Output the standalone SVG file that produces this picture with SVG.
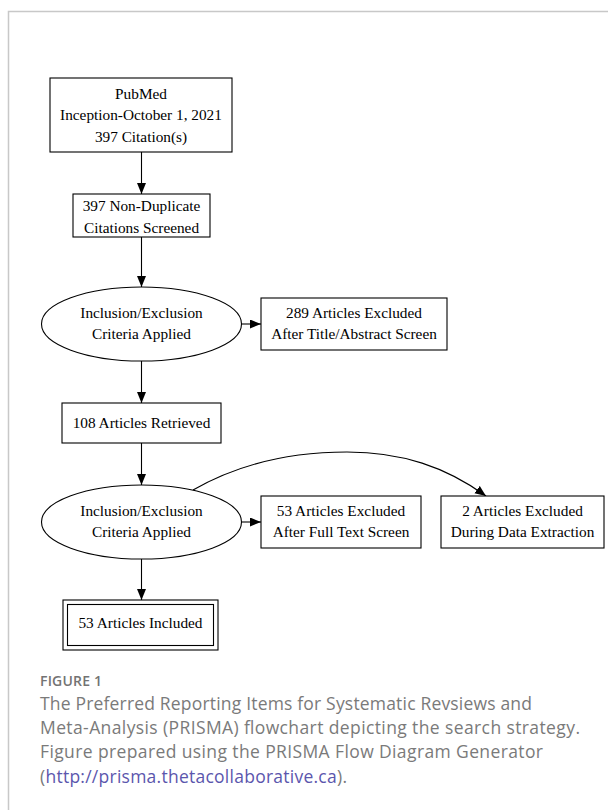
<svg xmlns="http://www.w3.org/2000/svg" width="608" height="810" viewBox="0 0 608 810">
<style>
.frame{stroke:#c8c8c8;stroke-width:1.5;fill:none}
.box{fill:#fff;stroke:#000;stroke-width:1.1}
.t{font-family:"Liberation Serif","Times New Roman",serif;font-size:15.3px;fill:#000;text-anchor:middle}
.edge{fill:none;stroke:#000;stroke-width:1.1}
.cap{font-family:"Open Sans","Noto Sans",sans-serif;font-size:17.5px;fill:#7a7a7a}
.fig{font-family:"Open Sans","Noto Sans",sans-serif;font-size:14px;font-weight:600;fill:#737373}
.link{fill:#5b56ad}
</style>
<defs>
<marker id="ah" markerUnits="userSpaceOnUse" markerWidth="12" markerHeight="10" refX="11" refY="4.5" orient="auto">
<path d="M0,0 L11,4.5 L0,9 Z" fill="#000"/>
</marker>
</defs>
<rect width="608" height="810" fill="#fff"/>
<path class="frame" d="M8.5,810 V11.5 H608"/>

<g id="connectors">
<path class="edge" d="M141.5,152 V194" marker-end="url(#ah)"/>
<path class="edge" d="M141.5,237 V287" marker-end="url(#ah)"/>
<path class="edge" d="M241.5,324 H261" marker-end="url(#ah)"/>
<path class="edge" d="M141.5,361 V403" marker-end="url(#ah)"/>
<path class="edge" d="M141.5,443 V485" marker-end="url(#ah)"/>
<path class="edge" d="M241.5,522 H261" marker-end="url(#ah)"/>
<path class="edge" d="M141.5,559 V600" marker-end="url(#ah)"/>
<path class="edge" d="M193,490 C240,463 292,452 347,452 C402,452 446,467 486,496" marker-end="url(#ah)"/>
</g>

<g id="pubmed">
<rect class="box" x="50" y="78" width="182" height="74"/>
<text class="t" x="141" y="98.5">PubMed</text>
<text class="t" x="141" y="120">Inception-October 1, 2021</text>
<text class="t" x="141" y="141.5">397 Citation(s)</text>
</g>

<g id="nondup">
<rect class="box" x="73" y="194" width="137" height="43"/>
<text class="t" x="141.5" y="211">397 Non-Duplicate</text>
<text class="t" x="141.5" y="232.5">Citations Screened</text>
</g>

<g id="criteria1">
<ellipse class="box" cx="141.5" cy="324" rx="100" ry="37"/>
<text class="t" x="141.5" y="317.5">Inclusion/Exclusion</text>
<text class="t" x="141.5" y="339">Criteria Applied</text>
</g>

<g id="excl289">
<rect class="box" x="261" y="298" width="186" height="52"/>
<text class="t" x="354" y="317.5">289 Articles Excluded</text>
<text class="t" x="354" y="339">After Title/Abstract Screen</text>
</g>

<g id="retrieved">
<rect class="box" x="62" y="403" width="159" height="40"/>
<text class="t" x="141.5" y="427.5">108 Articles Retrieved</text>
</g>

<g id="criteria2">
<ellipse class="box" cx="141.5" cy="522" rx="100" ry="37"/>
<text class="t" x="141.5" y="515.5">Inclusion/Exclusion</text>
<text class="t" x="141.5" y="537">Criteria Applied</text>
</g>

<g id="excl53">
<rect class="box" x="261" y="496" width="160" height="52"/>
<text class="t" x="341" y="515.5">53 Articles Excluded</text>
<text class="t" x="341" y="537">After Full Text Screen</text>
</g>

<g id="excl2">
<rect class="box" x="441" y="496" width="163" height="52"/>
<text class="t" x="522.5" y="515.5">2 Articles Excluded</text>
<text class="t" x="522.5" y="537">During Data Extraction</text>
</g>

<g id="included">
<rect class="box" x="63" y="600" width="155" height="50"/>
<rect class="box" x="67.5" y="604.5" width="146" height="41"/>
<text class="t" x="140.5" y="628">53 Articles Included</text>
</g>

<g id="caption">
<text class="fig" x="40" y="686" textLength="62" lengthAdjust="spacing">FIGURE 1</text>
<text class="cap" x="40" y="709.5" textLength="492" lengthAdjust="spacing">The Preferred Reporting Items for Systematic Revsiews and</text>
<text class="cap" x="40" y="734" textLength="540" lengthAdjust="spacing">Meta-Analysis (PRISMA) flowchart depicting the search strategy.</text>
<text class="cap" x="40" y="758" textLength="503" lengthAdjust="spacing">Figure prepared using the PRISMA Flow Diagram Generator</text>
<text class="cap" x="40" y="782.5" textLength="307" lengthAdjust="spacing">(<tspan class="link">http://prisma.thetacollaborative.ca</tspan>).</text>
</g>
</svg>
